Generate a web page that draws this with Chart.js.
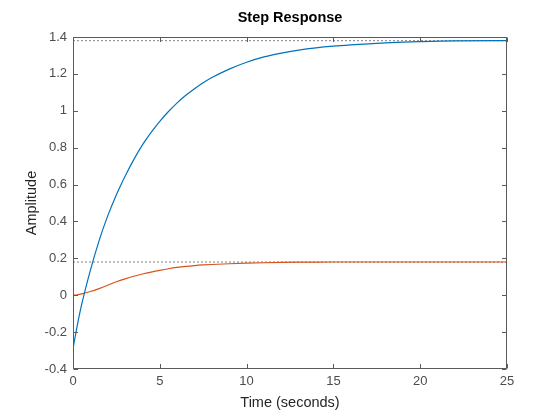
<!DOCTYPE html>
<html><head><meta charset="utf-8">
<script src="https://cdn.jsdelivr.net/npm/chart.js@4.4.1/dist/chart.umd.min.js"></script>
<style>html,body{margin:0;padding:0;background:#fff}#wrap{width:560px;height:420px}</style>
</head><body><div id="wrap"><canvas id="c" width="560" height="420"></canvas></div>
<script>
// ---- data ----
const timeSeconds = [0,0.25,0.5,1,1.5,2,2.5,3,3.5,4,4.5,5,5.5,6,6.5,7,7.5,8,9,10,11,12,13,14,15,16,17,18,19,20,22,25];
const response1 = [-0.29,-0.162,-0.05,0.135,0.295,0.43,0.545,0.645,0.735,0.815,0.883,0.943,0.996,1.043,1.084,1.12,1.152,1.18,1.226,1.263,1.292,1.313,1.329,1.341,1.35,1.357,1.363,1.368,1.372,1.375,1.379,1.38];
const response2 = [0,0.002,0.007,0.02,0.036,0.054,0.073,0.089,0.103,0.115,0.1255,0.135,0.1435,0.1505,0.156,0.1605,0.164,0.1667,0.1707,0.1737,0.176,0.1777,0.179,0.1797,0.18,0.18,0.18,0.18,0.18,0.18,0.18,0.18];
const steadyState = [1.38, 0.18];
const xTickValues = [0,5,10,15,20,25];
const xTickLabels = ['0','5','10','15','20','25'];
const yTickValues = [-0.4,-0.2,0,0.2,0.4,0.6,0.8,1,1.2,1.4];
const yTickLabels = ['-0.4','-0.2','0','0.2','0.4','0.6','0.8','1','1.2','1.4'];
const chartTitle = 'Step Response';
const xLabel = 'Time (seconds)';
const yLabel = 'Amplitude';

const FONT = "'Liberation Sans', Arial, Helvetica, sans-serif";
const axisColor = '#5a5a5a';
const tickLabelColor = '#4d4d4d';
const labelColor = '#262626';

const toPts = (xs, ys) => xs.map((t, i) => ({x: t, y: ys[i]}));
const ssLine = v => [{x: xTickValues[0], y: v}, {x: xTickValues[xTickValues.length - 1], y: v}];

const boxPlugin = {
  id: 'boxPlugin',
  afterDatasetsDraw(chart) {
    const {ctx, chartArea: a, scales: {x, y}} = chart;
    ctx.save();
    ctx.strokeStyle = axisColor;
    ctx.lineWidth = 1;
    const L = Math.round(a.left) + 0.5, R = Math.round(a.right) - 0.5;
    const T = Math.round(a.top) + 0.5, B = Math.round(a.bottom) - 0.5;
    ctx.beginPath();
    ctx.rect(L, T, R - L, B - T);
    const tl = 4.5;
    xTickValues.forEach(v => {
      const px = Math.round(x.getPixelForValue(v)) + 0.5;
      ctx.moveTo(px, B); ctx.lineTo(px, B - tl);
      ctx.moveTo(px, T); ctx.lineTo(px, T + tl);
    });
    yTickValues.forEach(v => {
      const py = Math.round(y.getPixelForValue(v)) + 0.5;
      ctx.moveTo(L, py); ctx.lineTo(L + tl, py);
      ctx.moveTo(R, py); ctx.lineTo(R - tl, py);
    });
    ctx.stroke();
    ctx.fillStyle = '#000';
    ctx.font = 'bold 14.5px ' + FONT;
    ctx.textAlign = 'center';
    ctx.textBaseline = 'middle';
    ctx.fillText(chartTitle, (a.left + a.right) / 2, 18);
    ctx.restore();
  }
};

new Chart(document.getElementById('c'), {
  type: 'line',
  data: {
    datasets: [
      {data: toPts(timeSeconds, response1), borderColor: '#0072BD', borderWidth: 1.2, pointRadius: 0, cubicInterpolationMode: 'monotone', order: 1},
      {data: toPts(timeSeconds, response2), borderColor: '#D95319', borderWidth: 1.2, pointRadius: 0, cubicInterpolationMode: 'monotone', order: 1},
      {data: ssLine(steadyState[0]), borderColor: '#808080', borderWidth: 1, borderDash: [2, 2], pointRadius: 0, order: 2},
      {data: ssLine(steadyState[1]), borderColor: '#808080', borderWidth: 1, borderDash: [2, 2], pointRadius: 0, order: 2}
    ]
  },
  options: {
    responsive: false,
    animation: false,
    devicePixelRatio: 1,
    layout: {padding: {top: 37, right: 53, bottom: 0, left: 0}},
    plugins: {legend: {display: false}, title: {display: false}, tooltip: {enabled: false}},
    scales: {
      x: {
        type: 'linear', min: 0, max: 25,
        afterBuildTicks: s => { s.ticks = xTickValues.map(v => ({value: v})); },
        afterFit: s => { s.height = 51; },
        grid: {display: false, drawTicks: false},
        border: {display: false},
        ticks: {padding: 5, color: tickLabelColor, font: {family: FONT, size: 13}, maxRotation: 0,
          callback: (v, i) => xTickLabels[i]},
        title: {display: true, text: xLabel, color: labelColor, font: {family: FONT, size: 14.5}, padding: {top: 0, bottom: 8}}
      },
      y: {
        type: 'linear', min: -0.4, max: 1.4,
        afterBuildTicks: s => { s.ticks = yTickValues.map(v => ({value: v})); },
        afterFit: s => { s.width = 73; },
        grid: {display: false, drawTicks: false},
        border: {display: false},
        ticks: {padding: 6, color: tickLabelColor, font: {family: FONT, size: 13},
          callback: (v, i) => yTickLabels[i]},
        title: {display: true, text: yLabel, color: labelColor, font: {family: FONT, size: 14.5}, padding: {top: 23, bottom: 0}}
      }
    }
  },
  plugins: [boxPlugin]
});
</script>
</body></html>
